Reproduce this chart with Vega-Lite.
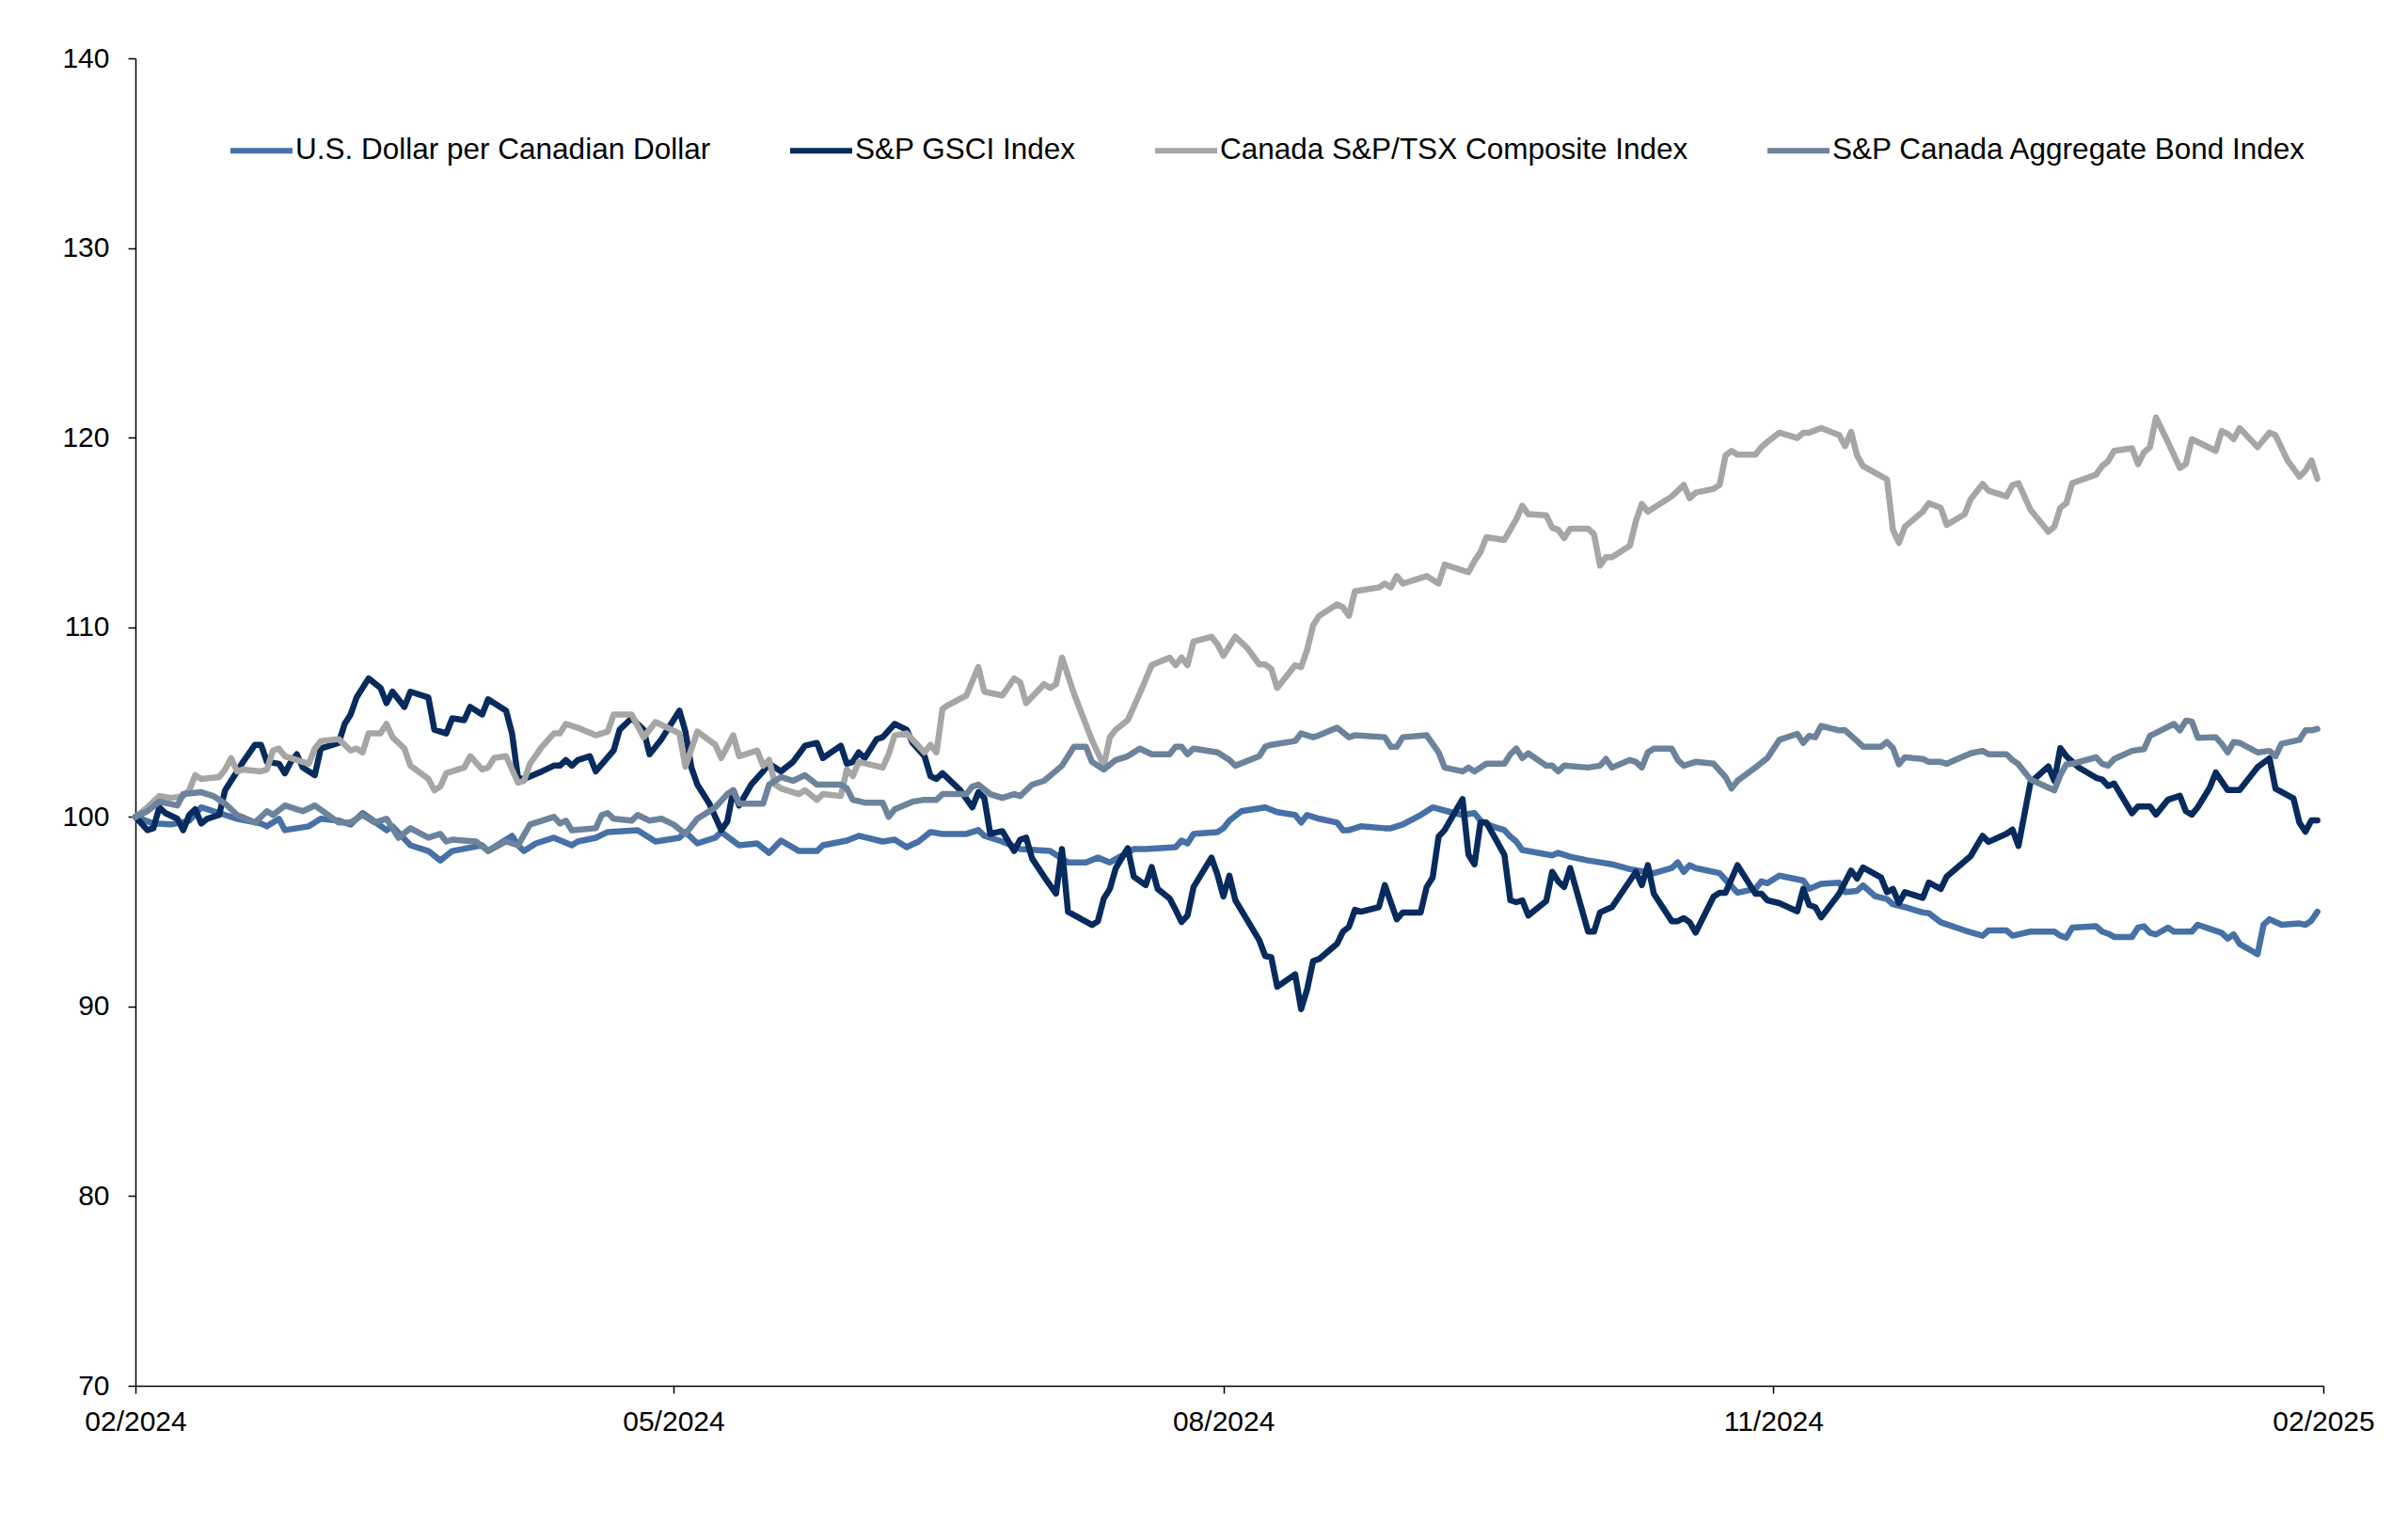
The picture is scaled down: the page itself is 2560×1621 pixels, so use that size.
{
"$schema":"https://vega.github.io/schema/vega-lite/v6.json",
"width":2326,"height":1411,
"autosize":{"type":"none"},
"padding":{"left":144,"top":62,"right":90,"bottom":148},
"background":"white",
"config":{"view":{"stroke":null},"font":"Liberation Sans",
"axis":{"domainColor":"black","domainWidth":1.5,"tickColor":"black","tickWidth":1.5,"tickSize":8,"labelFont":"Liberation Sans","labelFontSize":30,"labelColor":"black","grid":false,"title":null}},
"datasets":{
"usd":[{"d":"2024-02-01","v":100},{"d":"2024-02-04","v":99.65},{"d":"2024-02-07","v":99.6},{"d":"2024-02-10","v":99.8},{"d":"2024-02-12","v":100.5},{"d":"2024-02-16","v":100.1},{"d":"2024-02-18","v":99.9},{"d":"2024-02-22","v":99.65},{"d":"2024-02-23","v":99.5},{"d":"2024-02-25","v":99.9},{"d":"2024-02-26","v":99.3},{"d":"2024-03-01","v":99.5},{"d":"2024-03-03","v":99.9},{"d":"2024-03-06","v":99.8},{"d":"2024-03-08","v":99.6},{"d":"2024-03-10","v":100.2},{"d":"2024-03-14","v":99.3},{"d":"2024-03-15","v":99.5},{"d":"2024-03-18","v":98.5},{"d":"2024-03-21","v":98.2},{"d":"2024-03-23","v":97.7},{"d":"2024-03-25","v":98.2},{"d":"2024-03-30","v":98.5},{"d":"2024-03-31","v":98.2},{"d":"2024-04-04","v":99.0},{"d":"2024-04-05","v":98.5},{"d":"2024-04-06","v":98.2},{"d":"2024-04-08","v":98.6},{"d":"2024-04-11","v":98.9},{"d":"2024-04-14","v":98.5},{"d":"2024-04-15","v":98.7},{"d":"2024-04-18","v":98.9},{"d":"2024-04-20","v":99.2},{"d":"2024-04-25","v":99.3},{"d":"2024-04-28","v":98.7},{"d":"2024-05-02","v":98.9},{"d":"2024-05-03","v":99.2},{"d":"2024-05-05","v":98.6},{"d":"2024-05-08","v":98.9},{"d":"2024-05-09","v":99.2},{"d":"2024-05-12","v":98.5},{"d":"2024-05-15","v":98.6},{"d":"2024-05-17","v":98.1},{"d":"2024-05-19","v":98.75},{"d":"2024-05-22","v":98.2},{"d":"2024-05-25","v":98.2},{"d":"2024-05-26","v":98.5},{"d":"2024-05-30","v":98.75},{"d":"2024-06-01","v":99.0},{"d":"2024-06-05","v":98.7},{"d":"2024-06-07","v":98.8},{"d":"2024-06-09","v":98.4},{"d":"2024-06-11","v":98.7},{"d":"2024-06-13","v":99.2},{"d":"2024-06-15","v":99.1},{"d":"2024-06-19","v":99.1},{"d":"2024-06-21","v":99.3},{"d":"2024-06-22","v":99.0},{"d":"2024-06-25","v":98.7},{"d":"2024-06-28","v":98.3},{"d":"2024-07-03","v":98.2},{"d":"2024-07-06","v":97.6},{"d":"2024-07-09","v":97.6},{"d":"2024-07-11","v":97.85},{"d":"2024-07-13","v":97.6},{"d":"2024-07-17","v":98.3},{"d":"2024-07-19","v":98.3},{"d":"2024-07-24","v":98.4},{"d":"2024-07-25","v":98.75},{"d":"2024-07-26","v":98.6},{"d":"2024-07-27","v":99.1},{"d":"2024-07-31","v":99.2},{"d":"2024-08-01","v":99.4},{"d":"2024-08-02","v":99.8},{"d":"2024-08-04","v":100.3},{"d":"2024-08-08","v":100.5},{"d":"2024-08-10","v":100.25},{"d":"2024-08-13","v":100.1},{"d":"2024-08-14","v":99.7},{"d":"2024-08-15","v":100.1},{"d":"2024-08-17","v":99.9},{"d":"2024-08-20","v":99.7},{"d":"2024-08-21","v":99.3},{"d":"2024-08-22","v":99.3},{"d":"2024-08-24","v":99.5},{"d":"2024-08-28","v":99.4},{"d":"2024-08-29","v":99.4},{"d":"2024-08-31","v":99.6},{"d":"2024-09-03","v":100.1},{"d":"2024-09-05","v":100.5},{"d":"2024-09-08","v":100.25},{"d":"2024-09-10","v":100.1},{"d":"2024-09-12","v":100.2},{"d":"2024-09-13","v":99.8},{"d":"2024-09-15","v":99.5},{"d":"2024-09-17","v":99.3},{"d":"2024-09-18","v":98.96},{"d":"2024-09-19","v":98.7},{"d":"2024-09-20","v":98.25},{"d":"2024-09-25","v":97.97},{"d":"2024-09-26","v":98.1},{"d":"2024-09-28","v":97.9},{"d":"2024-10-01","v":97.7},{"d":"2024-10-03","v":97.6},{"d":"2024-10-05","v":97.5},{"d":"2024-10-08","v":97.24},{"d":"2024-10-12","v":97.03},{"d":"2024-10-15","v":97.3},{"d":"2024-10-16","v":97.6},{"d":"2024-10-17","v":97.1},{"d":"2024-10-18","v":97.45},{"d":"2024-10-19","v":97.3},{"d":"2024-10-23","v":97.03},{"d":"2024-10-24","v":96.68},{"d":"2024-10-26","v":96.0},{"d":"2024-10-29","v":96.2},{"d":"2024-10-30","v":96.6},{"d":"2024-10-31","v":96.5},{"d":"2024-11-02","v":96.9},{"d":"2024-11-06","v":96.64},{"d":"2024-11-07","v":96.2},{"d":"2024-11-09","v":96.47},{"d":"2024-11-12","v":96.53},{"d":"2024-11-13","v":96.03},{"d":"2024-11-15","v":96.1},{"d":"2024-11-16","v":96.38},{"d":"2024-11-18","v":95.82},{"d":"2024-11-20","v":95.67},{"d":"2024-11-21","v":95.39},{"d":"2024-11-23","v":95.24},{"d":"2024-11-26","v":94.96},{"d":"2024-11-27","v":94.92},{"d":"2024-11-29","v":94.44},{"d":"2024-12-03","v":94.01},{"d":"2024-12-06","v":93.73},{"d":"2024-12-07","v":94.01},{"d":"2024-12-10","v":94.01},{"d":"2024-12-11","v":93.73},{"d":"2024-12-14","v":93.95},{"d":"2024-12-18","v":93.95},{"d":"2024-12-19","v":93.73},{"d":"2024-12-20","v":93.63},{"d":"2024-12-21","v":94.16},{"d":"2024-12-25","v":94.23},{"d":"2024-12-26","v":93.95},{"d":"2024-12-27","v":93.84},{"d":"2024-12-28","v":93.67},{"d":"2024-12-31","v":93.67},{"d":"2025-01-01","v":94.16},{"d":"2025-01-02","v":94.23},{"d":"2025-01-03","v":93.88},{"d":"2025-01-04","v":93.8},{"d":"2025-01-06","v":94.16},{"d":"2025-01-07","v":93.95},{"d":"2025-01-10","v":93.95},{"d":"2025-01-11","v":94.31},{"d":"2025-01-15","v":93.88},{"d":"2025-01-16","v":93.58},{"d":"2025-01-17","v":93.8},{"d":"2025-01-18","v":93.3},{"d":"2025-01-21","v":92.76},{"d":"2025-01-22","v":94.31},{"d":"2025-01-23","v":94.6},{"d":"2025-01-25","v":94.31},{"d":"2025-01-28","v":94.38},{"d":"2025-01-29","v":94.31},{"d":"2025-01-30","v":94.53},{"d":"2025-01-31","v":95.0}],
"gsci":[{"d":"2024-02-01","v":100},{"d":"2024-02-03","v":99.3},{"d":"2024-02-04","v":99.4},{"d":"2024-02-05","v":100.5},{"d":"2024-02-06","v":100.2},{"d":"2024-02-08","v":99.9},{"d":"2024-02-09","v":99.3},{"d":"2024-02-10","v":100.1},{"d":"2024-02-11","v":100.4},{"d":"2024-02-12","v":99.65},{"d":"2024-02-13","v":99.9},{"d":"2024-02-15","v":100.1},{"d":"2024-02-16","v":101.4},{"d":"2024-02-18","v":102.4},{"d":"2024-02-19","v":102.9},{"d":"2024-02-21","v":103.8},{"d":"2024-02-22","v":103.8},{"d":"2024-02-23","v":102.9},{"d":"2024-02-25","v":102.8},{"d":"2024-02-26","v":102.3},{"d":"2024-02-27","v":102.9},{"d":"2024-02-28","v":103.3},{"d":"2024-02-29","v":102.6},{"d":"2024-03-02","v":102.2},{"d":"2024-03-03","v":103.6},{"d":"2024-03-04","v":103.7},{"d":"2024-03-06","v":103.9},{"d":"2024-03-07","v":104.9},{"d":"2024-03-08","v":105.4},{"d":"2024-03-09","v":106.3},{"d":"2024-03-11","v":107.3},{"d":"2024-03-13","v":106.8},{"d":"2024-03-14","v":106.0},{"d":"2024-03-15","v":106.6},{"d":"2024-03-17","v":105.8},{"d":"2024-03-18","v":106.6},{"d":"2024-03-21","v":106.3},{"d":"2024-03-22","v":104.6},{"d":"2024-03-24","v":104.4},{"d":"2024-03-25","v":105.2},{"d":"2024-03-27","v":105.1},{"d":"2024-03-28","v":105.8},{"d":"2024-03-30","v":105.4},{"d":"2024-03-31","v":106.2},{"d":"2024-04-03","v":105.6},{"d":"2024-04-04","v":104.4},{"d":"2024-04-05","v":102.05},{"d":"2024-04-06","v":102.0},{"d":"2024-04-09","v":102.4},{"d":"2024-04-11","v":102.7},{"d":"2024-04-12","v":102.7},{"d":"2024-04-13","v":103.0},{"d":"2024-04-14","v":102.7},{"d":"2024-04-15","v":103.0},{"d":"2024-04-17","v":103.2},{"d":"2024-04-18","v":102.4},{"d":"2024-04-21","v":103.5},{"d":"2024-04-22","v":104.6},{"d":"2024-04-24","v":105.2},{"d":"2024-04-26","v":104.6},{"d":"2024-04-27","v":103.3},{"d":"2024-04-29","v":104.1},{"d":"2024-05-02","v":105.6},{"d":"2024-05-03","v":104.5},{"d":"2024-05-04","v":102.6},{"d":"2024-05-05","v":101.7},{"d":"2024-05-07","v":100.7},{"d":"2024-05-09","v":99.3},{"d":"2024-05-10","v":99.75},{"d":"2024-05-11","v":101.4},{"d":"2024-05-12","v":100.6},{"d":"2024-05-14","v":101.7},{"d":"2024-05-16","v":102.4},{"d":"2024-05-17","v":102.8},{"d":"2024-05-19","v":102.4},{"d":"2024-05-21","v":102.9},{"d":"2024-05-23","v":103.75},{"d":"2024-05-25","v":103.9},{"d":"2024-05-26","v":103.1},{"d":"2024-05-29","v":103.75},{"d":"2024-05-30","v":102.8},{"d":"2024-05-31","v":102.9},{"d":"2024-06-01","v":103.4},{"d":"2024-06-02","v":103.1},{"d":"2024-06-04","v":104.1},{"d":"2024-06-05","v":104.2},{"d":"2024-06-07","v":104.9},{"d":"2024-06-09","v":104.6},{"d":"2024-06-10","v":103.9},{"d":"2024-06-12","v":103.2},{"d":"2024-06-13","v":102.15},{"d":"2024-06-14","v":102.0},{"d":"2024-06-15","v":102.3},{"d":"2024-06-16","v":102.0},{"d":"2024-06-18","v":101.4},{"d":"2024-06-20","v":100.5},{"d":"2024-06-21","v":101.3},{"d":"2024-06-22","v":101.0},{"d":"2024-06-23","v":99.1},{"d":"2024-06-25","v":99.25},{"d":"2024-06-27","v":98.2},{"d":"2024-06-28","v":98.8},{"d":"2024-06-29","v":98.9},{"d":"2024-06-30","v":97.8},{"d":"2024-07-02","v":96.85},{"d":"2024-07-04","v":95.95},{"d":"2024-07-05","v":98.3},{"d":"2024-07-06","v":95.0},{"d":"2024-07-10","v":94.3},{"d":"2024-07-11","v":94.5},{"d":"2024-07-12","v":95.7},{"d":"2024-07-13","v":96.2},{"d":"2024-07-14","v":97.3},{"d":"2024-07-16","v":98.35},{"d":"2024-07-17","v":96.85},{"d":"2024-07-19","v":96.4},{"d":"2024-07-20","v":97.35},{"d":"2024-07-21","v":96.2},{"d":"2024-07-23","v":95.7},{"d":"2024-07-24","v":95.1},{"d":"2024-07-25","v":94.45},{"d":"2024-07-26","v":94.8},{"d":"2024-07-27","v":96.3},{"d":"2024-07-30","v":97.85},{"d":"2024-07-31","v":96.96},{"d":"2024-08-01","v":95.8},{"d":"2024-08-02","v":96.9},{"d":"2024-08-03","v":95.6},{"d":"2024-08-07","v":93.5},{"d":"2024-08-08","v":92.66},{"d":"2024-08-09","v":92.6},{"d":"2024-08-10","v":91.04},{"d":"2024-08-13","v":91.7},{"d":"2024-08-14","v":89.86},{"d":"2024-08-15","v":90.9},{"d":"2024-08-16","v":92.4},{"d":"2024-08-17","v":92.5},{"d":"2024-08-20","v":93.3},{"d":"2024-08-21","v":93.95},{"d":"2024-08-22","v":94.2},{"d":"2024-08-23","v":95.1},{"d":"2024-08-24","v":95.0},{"d":"2024-08-27","v":95.24},{"d":"2024-08-28","v":96.4},{"d":"2024-08-29","v":95.5},{"d":"2024-08-30","v":94.6},{"d":"2024-08-31","v":94.96},{"d":"2024-09-03","v":94.96},{"d":"2024-09-04","v":96.3},{"d":"2024-09-05","v":96.8},{"d":"2024-09-06","v":98.96},{"d":"2024-09-07","v":99.3},{"d":"2024-09-10","v":100.94},{"d":"2024-09-11","v":98.0},{"d":"2024-09-12","v":97.5},{"d":"2024-09-13","v":99.7},{"d":"2024-09-14","v":99.7},{"d":"2024-09-17","v":98.0},{"d":"2024-09-18","v":95.6},{"d":"2024-09-19","v":95.5},{"d":"2024-09-20","v":95.6},{"d":"2024-09-21","v":94.8},{"d":"2024-09-24","v":95.56},{"d":"2024-09-25","v":97.1},{"d":"2024-09-26","v":96.6},{"d":"2024-09-27","v":96.3},{"d":"2024-09-28","v":97.3},{"d":"2024-10-01","v":93.95},{"d":"2024-10-02","v":93.95},{"d":"2024-10-03","v":94.96},{"d":"2024-10-04","v":95.1},{"d":"2024-10-05","v":95.24},{"d":"2024-10-09","v":97.1},{"d":"2024-10-10","v":96.4},{"d":"2024-10-11","v":97.45},{"d":"2024-10-12","v":95.95},{"d":"2024-10-15","v":94.5},{"d":"2024-10-16","v":94.5},{"d":"2024-10-17","v":94.66},{"d":"2024-10-18","v":94.44},{"d":"2024-10-19","v":93.9},{"d":"2024-10-22","v":95.8},{"d":"2024-10-23","v":96.0},{"d":"2024-10-24","v":96.0},{"d":"2024-10-26","v":97.45},{"d":"2024-10-29","v":95.95},{"d":"2024-10-30","v":95.95},{"d":"2024-10-31","v":95.6},{"d":"2024-11-02","v":95.45},{"d":"2024-11-05","v":95.02},{"d":"2024-11-06","v":96.2},{"d":"2024-11-07","v":95.35},{"d":"2024-11-08","v":95.24},{"d":"2024-11-09","v":94.7},{"d":"2024-11-12","v":95.95},{"d":"2024-11-14","v":97.17},{"d":"2024-11-15","v":96.75},{"d":"2024-11-16","v":97.33},{"d":"2024-11-19","v":96.81},{"d":"2024-11-20","v":96.03},{"d":"2024-11-21","v":96.2},{"d":"2024-11-22","v":95.45},{"d":"2024-11-23","v":96.03},{"d":"2024-11-26","v":95.73},{"d":"2024-11-27","v":96.53},{"d":"2024-11-29","v":96.2},{"d":"2024-11-30","v":96.85},{"d":"2024-12-04","v":97.93},{"d":"2024-12-06","v":99.0},{"d":"2024-12-07","v":98.68},{"d":"2024-12-10","v":99.11},{"d":"2024-12-11","v":99.33},{"d":"2024-12-12","v":98.47},{"d":"2024-12-14","v":101.8},{"d":"2024-12-17","v":102.66},{"d":"2024-12-18","v":101.9},{"d":"2024-12-19","v":103.63},{"d":"2024-12-20","v":103.2},{"d":"2024-12-22","v":102.62},{"d":"2024-12-25","v":102.06},{"d":"2024-12-26","v":101.97},{"d":"2024-12-27","v":101.63},{"d":"2024-12-28","v":101.76},{"d":"2024-12-31","v":100.19},{"d":"2025-01-01","v":100.55},{"d":"2025-01-03","v":100.55},{"d":"2025-01-04","v":100.12},{"d":"2025-01-06","v":100.9},{"d":"2025-01-08","v":101.11},{"d":"2025-01-09","v":100.3},{"d":"2025-01-10","v":100.12},{"d":"2025-01-11","v":100.51},{"d":"2025-01-13","v":101.54},{"d":"2025-01-14","v":102.34},{"d":"2025-01-16","v":101.41},{"d":"2025-01-18","v":101.41},{"d":"2025-01-21","v":102.62},{"d":"2025-01-23","v":103.09},{"d":"2025-01-24","v":101.48},{"d":"2025-01-27","v":100.98},{"d":"2025-01-28","v":99.69},{"d":"2025-01-29","v":99.22},{"d":"2025-01-30","v":99.82},{"d":"2025-01-31","v":99.82}],
"tsx":[{"d":"2024-02-01","v":100},{"d":"2024-02-03","v":100.5},{"d":"2024-02-05","v":101.1},{"d":"2024-02-07","v":101.0},{"d":"2024-02-09","v":101.1},{"d":"2024-02-10","v":101.4},{"d":"2024-02-11","v":102.2},{"d":"2024-02-12","v":102.0},{"d":"2024-02-15","v":102.1},{"d":"2024-02-16","v":102.5},{"d":"2024-02-17","v":103.1},{"d":"2024-02-18","v":102.4},{"d":"2024-02-19","v":102.5},{"d":"2024-02-22","v":102.4},{"d":"2024-02-23","v":102.5},{"d":"2024-02-24","v":103.5},{"d":"2024-02-25","v":103.6},{"d":"2024-02-26","v":103.2},{"d":"2024-02-28","v":103.0},{"d":"2024-03-01","v":102.8},{"d":"2024-03-02","v":103.6},{"d":"2024-03-03","v":104.0},{"d":"2024-03-06","v":104.1},{"d":"2024-03-08","v":103.5},{"d":"2024-03-09","v":103.6},{"d":"2024-03-10","v":103.4},{"d":"2024-03-11","v":104.4},{"d":"2024-03-13","v":104.4},{"d":"2024-03-14","v":104.9},{"d":"2024-03-15","v":104.2},{"d":"2024-03-17","v":103.6},{"d":"2024-03-18","v":102.7},{"d":"2024-03-21","v":102.0},{"d":"2024-03-22","v":101.4},{"d":"2024-03-23","v":101.6},{"d":"2024-03-24","v":102.3},{"d":"2024-03-26","v":102.5},{"d":"2024-03-27","v":102.6},{"d":"2024-03-28","v":103.2},{"d":"2024-03-30","v":102.5},{"d":"2024-03-31","v":102.6},{"d":"2024-04-01","v":103.1},{"d":"2024-04-03","v":103.2},{"d":"2024-04-05","v":101.8},{"d":"2024-04-06","v":101.9},{"d":"2024-04-07","v":102.8},{"d":"2024-04-09","v":103.7},{"d":"2024-04-11","v":104.4},{"d":"2024-04-12","v":104.4},{"d":"2024-04-13","v":104.9},{"d":"2024-04-15","v":104.7},{"d":"2024-04-18","v":104.3},{"d":"2024-04-20","v":104.5},{"d":"2024-04-21","v":105.4},{"d":"2024-04-24","v":105.4},{"d":"2024-04-26","v":104.2},{"d":"2024-04-28","v":105.0},{"d":"2024-05-02","v":104.4},{"d":"2024-05-03","v":102.65},{"d":"2024-05-05","v":104.5},{"d":"2024-05-08","v":103.8},{"d":"2024-05-09","v":103.1},{"d":"2024-05-11","v":104.3},{"d":"2024-05-12","v":103.2},{"d":"2024-05-15","v":103.5},{"d":"2024-05-16","v":102.7},{"d":"2024-05-17","v":103.0},{"d":"2024-05-18","v":101.7},{"d":"2024-05-19","v":101.5},{"d":"2024-05-22","v":101.2},{"d":"2024-05-23","v":101.4},{"d":"2024-05-25","v":100.9},{"d":"2024-05-26","v":101.2},{"d":"2024-05-29","v":101.1},{"d":"2024-05-30","v":102.5},{"d":"2024-05-31","v":102.15},{"d":"2024-06-01","v":102.9},{"d":"2024-06-05","v":102.6},{"d":"2024-06-06","v":103.3},{"d":"2024-06-07","v":104.3},{"d":"2024-06-09","v":104.4},{"d":"2024-06-12","v":103.4},{"d":"2024-06-13","v":103.8},{"d":"2024-06-14","v":103.4},{"d":"2024-06-15","v":105.7},{"d":"2024-06-16","v":105.9},{"d":"2024-06-19","v":106.4},{"d":"2024-06-21","v":107.9},{"d":"2024-06-22","v":106.6},{"d":"2024-06-25","v":106.4},{"d":"2024-06-27","v":107.3},{"d":"2024-06-28","v":107.1},{"d":"2024-06-29","v":106.0},{"d":"2024-07-02","v":107.0},{"d":"2024-07-03","v":106.8},{"d":"2024-07-04","v":107.0},{"d":"2024-07-05","v":108.4},{"d":"2024-07-07","v":106.5},{"d":"2024-07-10","v":104.05},{"d":"2024-07-12","v":102.7},{"d":"2024-07-13","v":104.2},{"d":"2024-07-14","v":104.6},{"d":"2024-07-16","v":105.1},{"d":"2024-07-18","v":106.5},{"d":"2024-07-20","v":108.0},{"d":"2024-07-23","v":108.4},{"d":"2024-07-24","v":108.0},{"d":"2024-07-25","v":108.4},{"d":"2024-07-26","v":108.0},{"d":"2024-07-27","v":109.25},{"d":"2024-07-30","v":109.5},{"d":"2024-07-31","v":109.1},{"d":"2024-08-01","v":108.5},{"d":"2024-08-03","v":109.5},{"d":"2024-08-05","v":108.9},{"d":"2024-08-07","v":108.04},{"d":"2024-08-08","v":108.04},{"d":"2024-08-09","v":107.8},{"d":"2024-08-10","v":106.8},{"d":"2024-08-13","v":108.0},{"d":"2024-08-14","v":107.9},{"d":"2024-08-15","v":108.8},{"d":"2024-08-16","v":110.1},{"d":"2024-08-17","v":110.6},{"d":"2024-08-20","v":111.2},{"d":"2024-08-21","v":111.05},{"d":"2024-08-22","v":110.6},{"d":"2024-08-23","v":111.9},{"d":"2024-08-27","v":112.1},{"d":"2024-08-28","v":112.3},{"d":"2024-08-29","v":112.1},{"d":"2024-08-30","v":112.7},{"d":"2024-08-31","v":112.3},{"d":"2024-09-04","v":112.7},{"d":"2024-09-06","v":112.3},{"d":"2024-09-07","v":113.3},{"d":"2024-09-11","v":112.9},{"d":"2024-09-12","v":113.5},{"d":"2024-09-13","v":113.96},{"d":"2024-09-14","v":114.75},{"d":"2024-09-17","v":114.6},{"d":"2024-09-19","v":115.7},{"d":"2024-09-20","v":116.4},{"d":"2024-09-21","v":115.96},{"d":"2024-09-24","v":115.9},{"d":"2024-09-25","v":115.25},{"d":"2024-09-26","v":115.14},{"d":"2024-09-27","v":114.7},{"d":"2024-09-28","v":115.2},{"d":"2024-10-01","v":115.2},{"d":"2024-10-02","v":114.9},{"d":"2024-10-03","v":113.25},{"d":"2024-10-04","v":113.7},{"d":"2024-10-05","v":113.7},{"d":"2024-10-08","v":114.3},{"d":"2024-10-09","v":115.6},{"d":"2024-10-10","v":116.5},{"d":"2024-10-11","v":116.1},{"d":"2024-10-15","v":116.9},{"d":"2024-10-17","v":117.5},{"d":"2024-10-18","v":116.8},{"d":"2024-10-19","v":117.1},{"d":"2024-10-22","v":117.3},{"d":"2024-10-23","v":117.5},{"d":"2024-10-24","v":119.06},{"d":"2024-10-25","v":119.3},{"d":"2024-10-26","v":119.1},{"d":"2024-10-29","v":119.1},{"d":"2024-10-30","v":119.5},{"d":"2024-10-31","v":119.77},{"d":"2024-11-02","v":120.26},{"d":"2024-11-05","v":119.98},{"d":"2024-11-06","v":120.26},{"d":"2024-11-07","v":120.26},{"d":"2024-11-09","v":120.5},{"d":"2024-11-12","v":120.13},{"d":"2024-11-13","v":119.55},{"d":"2024-11-14","v":120.3},{"d":"2024-11-15","v":119.06},{"d":"2024-11-16","v":118.5},{"d":"2024-11-20","v":117.8},{"d":"2024-11-21","v":115.14},{"d":"2024-11-22","v":114.45},{"d":"2024-11-23","v":115.3},{"d":"2024-11-26","v":116.1},{"d":"2024-11-27","v":116.54},{"d":"2024-11-29","v":116.3},{"d":"2024-11-30","v":115.4},{"d":"2024-12-03","v":115.96},{"d":"2024-12-04","v":116.75},{"d":"2024-12-06","v":117.55},{"d":"2024-12-07","v":117.2},{"d":"2024-12-10","v":116.9},{"d":"2024-12-11","v":117.5},{"d":"2024-12-12","v":117.6},{"d":"2024-12-14","v":116.2},{"d":"2024-12-17","v":115.03},{"d":"2024-12-18","v":115.3},{"d":"2024-12-19","v":116.3},{"d":"2024-12-20","v":116.54},{"d":"2024-12-21","v":117.6},{"d":"2024-12-25","v":118.05},{"d":"2024-12-26","v":118.5},{"d":"2024-12-27","v":118.76},{"d":"2024-12-28","v":119.3},{"d":"2024-12-31","v":119.44},{"d":"2025-01-01","v":118.6},{"d":"2025-01-02","v":119.23},{"d":"2025-01-03","v":119.5},{"d":"2025-01-04","v":121.06},{"d":"2025-01-06","v":119.77},{"d":"2025-01-08","v":118.4},{"d":"2025-01-09","v":118.6},{"d":"2025-01-10","v":119.92},{"d":"2025-01-14","v":119.3},{"d":"2025-01-15","v":120.35},{"d":"2025-01-16","v":120.2},{"d":"2025-01-17","v":119.92},{"d":"2025-01-18","v":120.5},{"d":"2025-01-21","v":119.5},{"d":"2025-01-23","v":120.26},{"d":"2025-01-24","v":120.13},{"d":"2025-01-26","v":118.8},{"d":"2025-01-28","v":117.94},{"d":"2025-01-29","v":118.26},{"d":"2025-01-30","v":118.8},{"d":"2025-01-31","v":117.83}],
"bond":[{"d":"2024-02-01","v":100},{"d":"2024-02-03","v":100.3},{"d":"2024-02-05","v":100.8},{"d":"2024-02-08","v":100.6},{"d":"2024-02-09","v":101.2},{"d":"2024-02-12","v":101.3},{"d":"2024-02-14","v":101.1},{"d":"2024-02-16","v":100.7},{"d":"2024-02-18","v":100.1},{"d":"2024-02-21","v":99.7},{"d":"2024-02-23","v":100.3},{"d":"2024-02-24","v":100.1},{"d":"2024-02-26","v":100.6},{"d":"2024-02-29","v":100.3},{"d":"2024-03-02","v":100.6},{"d":"2024-03-06","v":99.7},{"d":"2024-03-08","v":99.7},{"d":"2024-03-10","v":100.1},{"d":"2024-03-12","v":99.7},{"d":"2024-03-14","v":99.9},{"d":"2024-03-16","v":98.9},{"d":"2024-03-18","v":99.4},{"d":"2024-03-21","v":98.9},{"d":"2024-03-23","v":99.1},{"d":"2024-03-24","v":98.7},{"d":"2024-03-25","v":98.8},{"d":"2024-03-29","v":98.7},{"d":"2024-03-31","v":98.2},{"d":"2024-04-03","v":98.7},{"d":"2024-04-05","v":98.5},{"d":"2024-04-07","v":99.6},{"d":"2024-04-11","v":100.0},{"d":"2024-04-12","v":99.65},{"d":"2024-04-13","v":99.8},{"d":"2024-04-14","v":99.3},{"d":"2024-04-18","v":99.4},{"d":"2024-04-19","v":100.1},{"d":"2024-04-20","v":100.2},{"d":"2024-04-21","v":99.9},{"d":"2024-04-24","v":99.8},{"d":"2024-04-25","v":100.1},{"d":"2024-04-27","v":99.8},{"d":"2024-04-29","v":99.9},{"d":"2024-05-01","v":99.6},{"d":"2024-05-03","v":99.1},{"d":"2024-05-05","v":99.9},{"d":"2024-05-08","v":100.5},{"d":"2024-05-10","v":101.2},{"d":"2024-05-11","v":101.4},{"d":"2024-05-12","v":100.7},{"d":"2024-05-13","v":100.7},{"d":"2024-05-16","v":100.7},{"d":"2024-05-17","v":101.7},{"d":"2024-05-19","v":102.1},{"d":"2024-05-21","v":101.9},{"d":"2024-05-23","v":102.2},{"d":"2024-05-25","v":101.7},{"d":"2024-05-29","v":101.7},{"d":"2024-05-30","v":101.5},{"d":"2024-05-31","v":100.9},{"d":"2024-06-02","v":100.75},{"d":"2024-06-05","v":100.75},{"d":"2024-06-06","v":100.0},{"d":"2024-06-07","v":100.4},{"d":"2024-06-10","v":100.8},{"d":"2024-06-12","v":100.9},{"d":"2024-06-14","v":100.9},{"d":"2024-06-15","v":101.2},{"d":"2024-06-19","v":101.2},{"d":"2024-06-20","v":101.6},{"d":"2024-06-21","v":101.7},{"d":"2024-06-23","v":101.2},{"d":"2024-06-25","v":101.0},{"d":"2024-06-27","v":101.2},{"d":"2024-06-28","v":101.1},{"d":"2024-06-30","v":101.7},{"d":"2024-07-02","v":101.9},{"d":"2024-07-05","v":102.7},{"d":"2024-07-07","v":103.7},{"d":"2024-07-09","v":103.7},{"d":"2024-07-10","v":102.9},{"d":"2024-07-12","v":102.5},{"d":"2024-07-14","v":103.0},{"d":"2024-07-16","v":103.2},{"d":"2024-07-18","v":103.6},{"d":"2024-07-20","v":103.3},{"d":"2024-07-23","v":103.3},{"d":"2024-07-24","v":103.7},{"d":"2024-07-25","v":103.7},{"d":"2024-07-26","v":103.3},{"d":"2024-07-27","v":103.6},{"d":"2024-07-31","v":103.4},{"d":"2024-08-02","v":103.0},{"d":"2024-08-03","v":102.7},{"d":"2024-08-07","v":103.2},{"d":"2024-08-08","v":103.7},{"d":"2024-08-09","v":103.8},{"d":"2024-08-13","v":104.0},{"d":"2024-08-14","v":104.4},{"d":"2024-08-16","v":104.2},{"d":"2024-08-17","v":104.3},{"d":"2024-08-20","v":104.7},{"d":"2024-08-22","v":104.2},{"d":"2024-08-23","v":104.3},{"d":"2024-08-28","v":104.2},{"d":"2024-08-29","v":103.7},{"d":"2024-08-30","v":103.7},{"d":"2024-08-31","v":104.2},{"d":"2024-09-04","v":104.3},{"d":"2024-09-06","v":103.4},{"d":"2024-09-07","v":102.6},{"d":"2024-09-10","v":102.4},{"d":"2024-09-11","v":102.6},{"d":"2024-09-12","v":102.4},{"d":"2024-09-14","v":102.8},{"d":"2024-09-17","v":102.8},{"d":"2024-09-18","v":103.3},{"d":"2024-09-19","v":103.6},{"d":"2024-09-20","v":103.1},{"d":"2024-09-21","v":103.35},{"d":"2024-09-24","v":102.7},{"d":"2024-09-25","v":102.7},{"d":"2024-09-26","v":102.4},{"d":"2024-09-27","v":102.7},{"d":"2024-10-01","v":102.6},{"d":"2024-10-03","v":102.7},{"d":"2024-10-04","v":103.05},{"d":"2024-10-05","v":102.6},{"d":"2024-10-08","v":103.0},{"d":"2024-10-09","v":102.9},{"d":"2024-10-10","v":102.6},{"d":"2024-10-11","v":103.4},{"d":"2024-10-12","v":103.6},{"d":"2024-10-15","v":103.6},{"d":"2024-10-16","v":103.0},{"d":"2024-10-17","v":102.7},{"d":"2024-10-19","v":102.9},{"d":"2024-10-22","v":102.8},{"d":"2024-10-24","v":102.1},{"d":"2024-10-25","v":101.5},{"d":"2024-10-26","v":101.9},{"d":"2024-10-29","v":102.6},{"d":"2024-10-31","v":103.1},{"d":"2024-11-02","v":104.06},{"d":"2024-11-05","v":104.38},{"d":"2024-11-06","v":103.9},{"d":"2024-11-07","v":104.27},{"d":"2024-11-08","v":104.2},{"d":"2024-11-09","v":104.8},{"d":"2024-11-12","v":104.56},{"d":"2024-11-13","v":104.56},{"d":"2024-11-15","v":104.0},{"d":"2024-11-16","v":103.7},{"d":"2024-11-19","v":103.7},{"d":"2024-11-20","v":103.95},{"d":"2024-11-21","v":103.63},{"d":"2024-11-22","v":102.77},{"d":"2024-11-23","v":103.14},{"d":"2024-11-26","v":103.05},{"d":"2024-11-27","v":102.9},{"d":"2024-11-29","v":102.9},{"d":"2024-11-30","v":102.8},{"d":"2024-12-04","v":103.35},{"d":"2024-12-06","v":103.48},{"d":"2024-12-07","v":103.3},{"d":"2024-12-10","v":103.3},{"d":"2024-12-11","v":103.0},{"d":"2024-12-12","v":102.77},{"d":"2024-12-14","v":101.97},{"d":"2024-12-17","v":101.54},{"d":"2024-12-18","v":101.4},{"d":"2024-12-19","v":102.2},{"d":"2024-12-20","v":102.77},{"d":"2024-12-21","v":102.8},{"d":"2024-12-25","v":103.14},{"d":"2024-12-26","v":102.8},{"d":"2024-12-27","v":102.7},{"d":"2024-12-28","v":103.05},{"d":"2024-12-31","v":103.48},{"d":"2025-01-02","v":103.57},{"d":"2025-01-03","v":104.27},{"d":"2025-01-07","v":104.9},{"d":"2025-01-08","v":104.56},{"d":"2025-01-09","v":105.07},{"d":"2025-01-10","v":105.03},{"d":"2025-01-11","v":104.17},{"d":"2025-01-14","v":104.2},{"d":"2025-01-15","v":103.85},{"d":"2025-01-16","v":103.4},{"d":"2025-01-17","v":103.95},{"d":"2025-01-18","v":103.9},{"d":"2025-01-21","v":103.4},{"d":"2025-01-23","v":103.48},{"d":"2025-01-24","v":103.2},{"d":"2025-01-25","v":103.85},{"d":"2025-01-28","v":104.06},{"d":"2025-01-29","v":104.56},{"d":"2025-01-30","v":104.56},{"d":"2025-01-31","v":104.64}]
},
"encoding":{
"x":{"field":"d","type":"temporal","scale":{"type":"utc","domain":[{"year":2024,"month":2,"date":1,"utc":true},{"year":2025,"month":2,"date":1,"utc":true}]},
"axis":{"values":[{"year":2024,"month":2,"date":1,"utc":true},{"year":2024,"month":5,"date":1,"utc":true},{"year":2024,"month":8,"date":1,"utc":true},{"year":2024,"month":11,"date":1,"utc":true},{"year":2025,"month":2,"date":1,"utc":true}],"labelExpr":"utcFormat(datum.value, '%m/%Y')","labelPadding":15,"labelFlush":false,"labelOverlap":false}},
"y":{"field":"v","type":"quantitative","scale":{"domain":[70,140],"nice":false,"zero":false},"axis":{"values":[70,80,90,100,110,120,130,140],"labelPadding":20}}
},
"layer":[
{"data":{"name":"usd"},"mark":{"type":"line","strokeWidth":6.5,"strokeCap":"round","strokeJoin":"round"},
"encoding":{"color":{"datum":"U.S. Dollar per Canadian Dollar","type":"nominal",
"scale":{"domain":["U.S. Dollar per Canadian Dollar","S&P GSCI Index","Canada S&P/TSX Composite Index","S&P Canada Aggregate Bond Index"],"range":["#4670a6","#072b5c","#a6a6a6","#6d839c"]},
"legend":{"orient":"none","legendX":98,"legendY":62,"direction":"horizontal","columns":4,"title":null,"symbolType":"stroke","symbolSize":4356,"symbolStrokeWidth":6,"labelFontSize":31.5,"labelFont":"Liberation Sans","labelColor":"black","labelOffset":0,"columnPadding":72,"padding":0,"labelLimit":0}}}},
{"data":{"name":"gsci"},"mark":{"type":"line","strokeWidth":6.5,"strokeCap":"round","strokeJoin":"round"},"encoding":{"color":{"datum":"S&P GSCI Index","type":"nominal"}}},
{"data":{"name":"tsx"},"mark":{"type":"line","strokeWidth":6.5,"strokeCap":"round","strokeJoin":"round"},"encoding":{"color":{"datum":"Canada S&P/TSX Composite Index","type":"nominal"}}},
{"data":{"name":"bond"},"mark":{"type":"line","strokeWidth":6.5,"strokeCap":"round","strokeJoin":"round"},"encoding":{"color":{"datum":"S&P Canada Aggregate Bond Index","type":"nominal"}}}
]
}
